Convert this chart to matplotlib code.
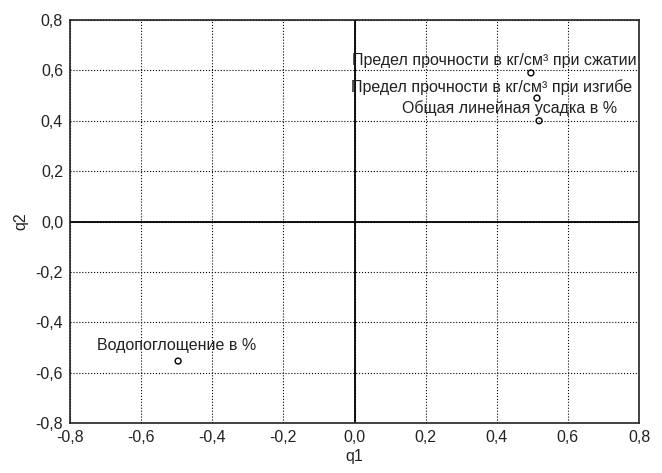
import matplotlib
matplotlib.use('Agg')
import matplotlib.pyplot as plt
from matplotlib.ticker import FuncFormatter, MultipleLocator

# loadings of the variables
names = ['Предел прочности в кг/см³ при сжатии',
         'Предел прочности в кг/см³ при изгибе',
         'Общая линейная усадка в %',
         'Водопоглощение в %']
q1 = [0.496, 0.513, 0.519, -0.496]
q2 = [0.59, 0.49, 0.40, -0.554]
# label offsets in points (dx, dy)
offsets = [(-26, 9), (-33, 8), (-21, 9), (-1, 11)]

plt.rcParams['font.family'] = ['Liberation Sans Narrow', 'Liberation Sans', 'DejaVu Sans']

fig = plt.figure(figsize=(6.62, 4.73), dpi=100)
ax = fig.add_axes([0.1057, 0.1057, 0.8596, 0.852])

ax.axhline(0, color='black', linewidth=1.3, zorder=1)
ax.axvline(0, color='black', linewidth=1.3, zorder=1)
ax.scatter(q1, q2, s=18, facecolors='none', edgecolors='black', linewidths=1.0, zorder=3)

for n, x, y, (dx, dy) in zip(names, q1, q2, offsets):
    ax.annotate(n, (x, y), xytext=(dx, dy), textcoords='offset points',
                ha='center', va='center', fontsize=11.5, color='#222222')

ax.set_xlim(-0.8, 0.8)
ax.set_ylim(-0.8, 0.8)
ax.xaxis.set_major_locator(MultipleLocator(0.2))
ax.yaxis.set_major_locator(MultipleLocator(0.2))
fmt = FuncFormatter(lambda v, p: ('%.1f' % v).replace('.', ',').replace('-0,0', '0,0'))
ax.xaxis.set_major_formatter(fmt)
ax.yaxis.set_major_formatter(fmt)
ax.tick_params(direction='in', length=0, labelsize=11.5, colors='#222222', pad=5)
ax.grid(True, linestyle=':', color='black', linewidth=0.8)
for s in ax.spines.values():
    s.set_linewidth(1.2)
    s.set_color('#222222')

ax.set_xlabel('q1', fontsize=11.5, color='#222222', labelpad=3)
ax.set_ylabel('q2', fontsize=11.5, color='#222222', labelpad=5)

plt.savefig('out.png', dpi=100)
